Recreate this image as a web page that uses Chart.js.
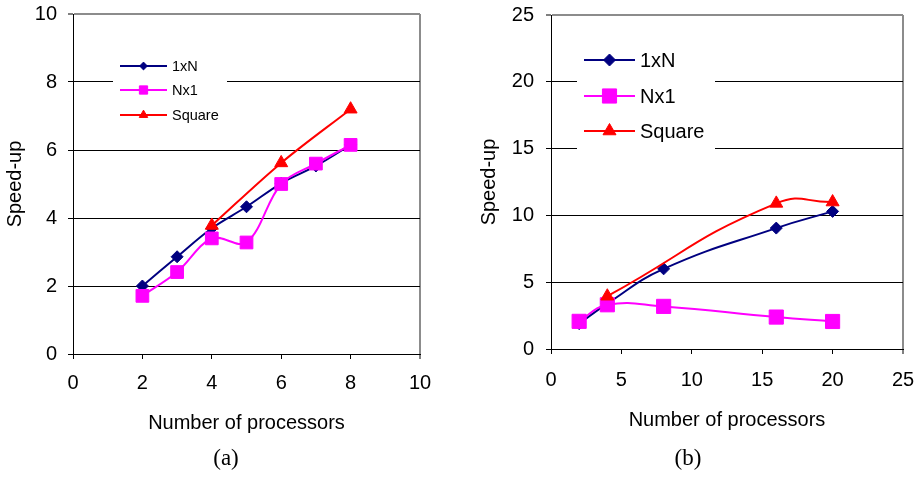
<!DOCTYPE html>
<html>
<head>
<meta charset="utf-8">
<script src="https://cdn.jsdelivr.net/npm/chart.js@4.4.1/dist/chart.umd.min.js"></script>
<style>
  html, body { margin: 0; padding: 0; background: #fff; }
  #page { position: relative; width: 924px; height: 478px; overflow: hidden; }
  canvas { position: absolute; top: 0; }
  #chartA { left: 0; }
  #chartB { left: 460px; }
  .caption {
    position: absolute; top: 444px; width: 80px; height: 28px; line-height: 28px;
    text-align: center; font-family: "Liberation Serif", "Times New Roman", serif; font-size: 23px; color: #000;
  }
</style>
</head>
<body>
<div id="page">
  <canvas id="chartA" width="460" height="478"></canvas>
  <canvas id="chartB" width="464" height="478"></canvas>
  <div class="caption" style="left:186px">(a)</div>
  <div class="caption" style="left:648px">(b)</div>
</div>
<script>
// ---- Panel (a): up to 8 processors ----
const procA       = [2, 3, 4, 5, 6, 7, 8];
const oneByN_A    = [2.0, 2.86, 3.7, 4.33, 5.02, 5.53, 6.15];
const nByOne_A    = [1.71, 2.41, 3.4, 3.28, 5.0, 5.6, 6.15];
const squareProcA = [4, 6, 8];
const square_A    = [3.78, 5.62, 7.2];

// ---- Panel (b): up to 20 processors ----
const procB       = [2, 4, 8, 16, 20];
const oneByN_B    = [1.9, 3.4, 6.0, 9.05, 10.3];
const nByOne_B    = [2.07, 3.31, 3.19, 2.39, 2.06];
const squareProcB = [4, 16, 20];
const square_B    = [3.95, 10.9, 11.0];

const ticksA = [0, 2, 4, 6, 8, 10];
const ticksB = [0, 5, 10, 15, 20, 25];

const seriesNames = ['1xN', 'Nx1', 'Square'];
const FONT = '"Liberation Sans", Arial, sans-serif';

const pts = (xs, ys) => xs.map((x, i) => ({ x: x, y: ys[i] }));

// Later series are painted over earlier ones (order 0 is drawn last)
function makeDatasets(xs1, y1, xs2, y2, xs3, y3, big) {
  const common = { showLine: true, tension: big ? 0.45 : 0.35, borderWidth: 2, pointBorderWidth: 1, clip: false };
  return [
    Object.assign({}, common, {
      label: seriesNames[0], data: pts(xs1, y1), order: 2,
      borderColor: '#000080', backgroundColor: '#000080', pointBorderColor: '#000080',
      pointStyle: 'rectRot', pointRadius: 6
    }),
    Object.assign({}, common, {
      label: seriesNames[1], data: pts(xs2, y2), order: 1,
      borderColor: '#FF00FF', backgroundColor: '#FF00FF', pointBorderColor: '#FF00FF',
      pointStyle: 'rect', pointRadius: big ? 10 : 9
    }),
    Object.assign({}, common, {
      label: seriesNames[2], data: pts(xs3, y3), order: 0,
      tension: big ? 0.5 : 0.35,
      borderColor: '#FF0000', backgroundColor: '#FF0000', pointBorderColor: '#FF0000',
      pointStyle: 'triangle', pointRadius: 7.5
    })
  ];
}

// Legend drawn inside the plot: white panel, line sample with marker, label
const insetLegend = {
  id: 'insetLegend',
  beforeDatasetsDraw(chart, args, o) {
    const ctx = chart.ctx;
    ctx.save();
    ctx.fillStyle = '#fff';
    ctx.fillRect(o.box[0], o.box[1], o.box[2], o.box[3]);
    ctx.font = o.fontSize + 'px ' + FONT;
    ctx.textBaseline = 'middle';
    ctx.textAlign = 'left';
    chart.data.datasets.forEach((ds, i) => {
      const y = o.rows[i];
      ctx.strokeStyle = ds.borderColor;
      ctx.lineWidth = ds.borderWidth;
      ctx.beginPath();
      ctx.moveTo(o.line[0], y);
      ctx.lineTo(o.line[1], y);
      ctx.stroke();
      ctx.fillStyle = ds.backgroundColor;
      ctx.strokeStyle = ds.pointBorderColor;
      ctx.lineWidth = 1;
      Chart.helpers.drawPoint(ctx, {
        pointStyle: ds.pointStyle, radius: ds.pointRadius * o.markerScale, borderWidth: 1, rotation: 0
      }, (o.line[0] + o.line[1]) / 2, y);
      ctx.fillStyle = '#000';
      ctx.fillText(ds.label, o.textX, y + 1);
    });
    ctx.restore();
  }
};

function makeChart(id, datasets, cfg) {
  const maxV = cfg.ticks[cfg.ticks.length - 1];
  return new Chart(document.getElementById(id), {
    type: 'scatter',
    data: { datasets: datasets },
    plugins: [insetLegend],
    options: {
      responsive: false,
      animation: false,
      devicePixelRatio: 1,
      layout: { padding: cfg.padding },
      plugins: {
        legend: { display: false },
        tooltip: { enabled: false },
        insetLegend: cfg.legend
      },
      scales: {
        x: {
          type: 'linear', min: 0, max: maxV,
          afterBuildTicks: s => { s.ticks = cfg.ticks.map(v => ({ value: v })); },
          afterFit: s => { s.height = cfg.xHeight; s.paddingLeft = 0; s.paddingRight = 0; },
          ticks: { color: '#000', font: { family: FONT, size: 20 }, padding: cfg.xTickPad, maxRotation: 0 },
          grid: {
            drawOnChartArea: true, drawTicks: true, tickLength: 5,
            color: c => (c.tick && c.tick.value === maxV) ? '#8c8c8c' : 'rgba(0,0,0,0)',
            lineWidth: c => (c.tick && c.tick.value === maxV) ? 2 : 1,
            tickColor: '#000', tickWidth: 1
          },
          border: { display: true, color: '#000', width: 1 },
          title: {
            display: true, text: 'Number of processors', color: '#000',
            font: { family: FONT, size: 20 }, padding: { top: 0, bottom: cfg.xTitlePad }
          }
        },
        y: {
          type: 'linear', min: 0, max: maxV,
          afterBuildTicks: s => { s.ticks = cfg.ticks.map(v => ({ value: v })); },
          afterFit: s => { s.width = cfg.yWidth; s.paddingTop = 0; s.paddingBottom = 0; },
          ticks: { color: '#000', font: { family: FONT, size: 20 }, padding: cfg.yTickPad },
          grid: {
            drawTicks: true, tickLength: 5,
            color: c => {
              const v = c.tick ? c.tick.value : null;
              if (v === maxV) return '#8c8c8c';
              if (v === 0) return 'rgba(0,0,0,0)';
              return '#000';
            },
            lineWidth: c => (c.tick && c.tick.value === maxV) ? 2 : 1,
            tickColor: '#000', tickWidth: 1
          },
          border: { display: true, color: '#000', width: 1 },
          title: {
            display: true, text: 'Speed-up', color: '#000',
            font: { family: FONT, size: 20 }, padding: { top: cfg.yTitlePad, bottom: 0 }
          }
        }
      }
    }
  });
}

makeChart('chartA',
  makeDatasets(procA, oneByN_A, procA, nByOne_A, squareProcA, square_A, false),
  {
    ticks: ticksA,
    padding: { left: 0, right: 40, top: 14, bottom: 32 },
    xHeight: 92, yWidth: 73,
    xTickPad: 12, yTickPad: 11, xTitlePad: 11, yTitlePad: 3,
    legend: {
      box: [113, 54, 114, 74], line: [120, 167], textX: 172,
      rows: [66, 90, 115], fontSize: 14.5, markerScale: 0.65
    }
  });

makeChart('chartB',
  makeDatasets(procB, oneByN_B, procB, nByOne_B, squareProcB, square_B, true),
  {
    ticks: ticksB,
    padding: { left: 0, right: 21, top: 15, bottom: 37 },
    xHeight: 92, yWidth: 91,
    xTickPad: 14, yTickPad: 12, xTitlePad: 9, yTitlePad: 17,
    legend: {
      box: [117, 40, 138, 120], line: [124, 175], textX: 180,
      rows: [60, 96, 131], fontSize: 20, markerScale: 1
    }
  });
</script>
</body>
</html>
